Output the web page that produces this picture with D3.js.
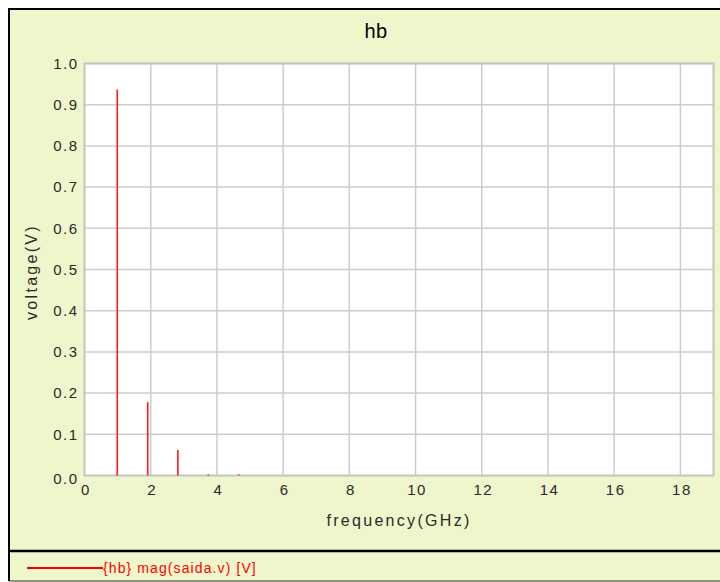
<!DOCTYPE html>
<html>
<head>
<meta charset="utf-8">
<script src="https://cdn.jsdelivr.net/npm/d3@7"></script>
<style>
  html, body { margin: 0; padding: 0; background: #ffffff; }
  svg { display: block; }
  text { font-family: "Liberation Sans", Arial, sans-serif; }
</style>
</head>
<body>
<svg id="chart" width="720" height="582"></svg>
<script>
// ---- data ----
const title = "hb";
const xLabel = "frequency(GHz)";
const yLabel = "voltage(V)";
const legendLabel = "{hb} mag(saida.v) [V]";
const freqGHz = [0.99, 1.91, 2.82, 3.74, 4.66];
const voltage = [0.937, 0.178, 0.062, 0.003, 0.003];
const xTicks = [0, 2, 4, 6, 8, 10, 12, 14, 16, 18];
const yTicks = [0.0, 0.1, 0.2, 0.3, 0.4, 0.5, 0.6, 0.7, 0.8, 0.9, 1.0];

// ---- layout ----
const svg = d3.select("#chart");
const W = 720, H = 582;
const bg = "#eff6cb";
const plot = { left: 84.5, top: 63.5, right: 713.5, bottom: 475.5 };

// frame background
svg.append("rect").attr("x", 10).attr("y", 10).attr("width", W - 10).attr("height", H - 10).attr("fill", bg);
// frame borders
svg.append("line").attr("x1", 8).attr("x2", W).attr("y1", 9).attr("y2", 9).attr("stroke", "#000").attr("stroke-width", 2);
svg.append("line").attr("x1", 9).attr("x2", 9).attr("y1", 8).attr("y2", 581).attr("stroke", "#000").attr("stroke-width", 2);
svg.append("line").attr("x1", 9).attr("x2", W).attr("y1", 551).attr("y2", 551).attr("stroke", "#000").attr("stroke-width", 2.5);
svg.append("line").attr("x1", 9).attr("x2", W).attr("y1", 581).attr("y2", 581).attr("stroke", "#333").attr("stroke-width", 1);

const x = d3.scaleLinear().domain([0, 19]).range([plot.left, plot.right]);
const y = d3.scaleLinear().domain([0, 1]).range([plot.bottom, plot.top]);

// plot background
svg.append("rect")
  .attr("x", plot.left).attr("y", plot.top)
  .attr("width", plot.right - plot.left).attr("height", plot.bottom - plot.top)
  .attr("fill", "#ffffff");

// grid
const grid = svg.append("g").attr("stroke", "#cccccc").attr("stroke-width", 1.5);
grid.selectAll("line.v").data(xTicks.filter(d => d > 0)).join("line")
  .attr("x1", d => x(d)).attr("x2", d => x(d))
  .attr("y1", plot.top).attr("y2", plot.bottom);
grid.selectAll("line.h").data(yTicks.filter(d => d > 0)).join("line")
  .attr("x1", plot.left).attr("x2", plot.right)
  .attr("y1", d => y(d)).attr("y2", d => y(d));
svg.append("rect")
  .attr("x", plot.left).attr("y", plot.top)
  .attr("width", plot.right - plot.left).attr("height", plot.bottom - plot.top)
  .attr("fill", "none").attr("stroke", "#c4c4c4").attr("stroke-width", 2);

// axes (labels only, via d3 axes)
const xAxis = d3.axisBottom(x).tickValues(xTicks).tickFormat(d3.format("d")).tickSize(0).tickPadding(8);
const gx = svg.append("g").attr("transform", `translate(0,${plot.bottom + 1})`).call(xAxis);
gx.select(".domain").remove();
gx.selectAll("text").attr("font-size", 15).attr("fill", "#2a2a2a")
  .attr("font-family", "Liberation Sans, Arial, sans-serif").attr("letter-spacing", 1.5).attr("dx", 1);

const yAxis = d3.axisLeft(y).tickValues(yTicks).tickFormat(d3.format(".1f")).tickSize(0).tickPadding(6);
const gy = svg.append("g").attr("transform", `translate(${plot.left},0)`).call(yAxis);
gy.select(".domain").remove();
gy.selectAll("text").attr("font-size", 15).attr("fill", "#2a2a2a")
  .attr("font-family", "Liberation Sans, Arial, sans-serif").attr("letter-spacing", 1.5);
gy.selectAll(".tick").filter(d => d === 0).select("text").attr("dy", "0.5em");

// spectral lines
svg.append("g").selectAll("line").data(freqGHz).join("line")
  .attr("x1", d => x(d)).attr("x2", d => x(d))
  .attr("y1", plot.bottom).attr("y2", (d, i) => y(voltage[i]))
  .attr("stroke", "#ff1a1a").attr("stroke-width", 1.6);

// titles
svg.append("text").attr("x", 376).attr("y", 38).attr("text-anchor", "middle")
  .attr("font-size", 20).attr("fill", "#000").attr("letter-spacing", 0.5).text(title);
svg.append("text").attr("x", 399).attr("y", 526).attr("text-anchor", "middle")
  .attr("font-size", 16).attr("fill", "#2a2a2a").attr("letter-spacing", 2.3).text(xLabel);
svg.append("text").attr("transform", `translate(37,272) rotate(-90)`).attr("text-anchor", "middle")
  .attr("font-size", 16).attr("fill", "#2a2a2a").attr("letter-spacing", 2.3).text(yLabel);

// legend
svg.append("line").attr("x1", 27).attr("x2", 103).attr("y1", 568).attr("y2", 568)
  .attr("stroke", "#ff0000").attr("stroke-width", 2);
svg.append("text").attr("x", 103).attr("y", 573).attr("font-size", 14).attr("fill", "#ff0000")
  .attr("letter-spacing", 1.1).text(legendLabel);
</script>
</body>
</html>
